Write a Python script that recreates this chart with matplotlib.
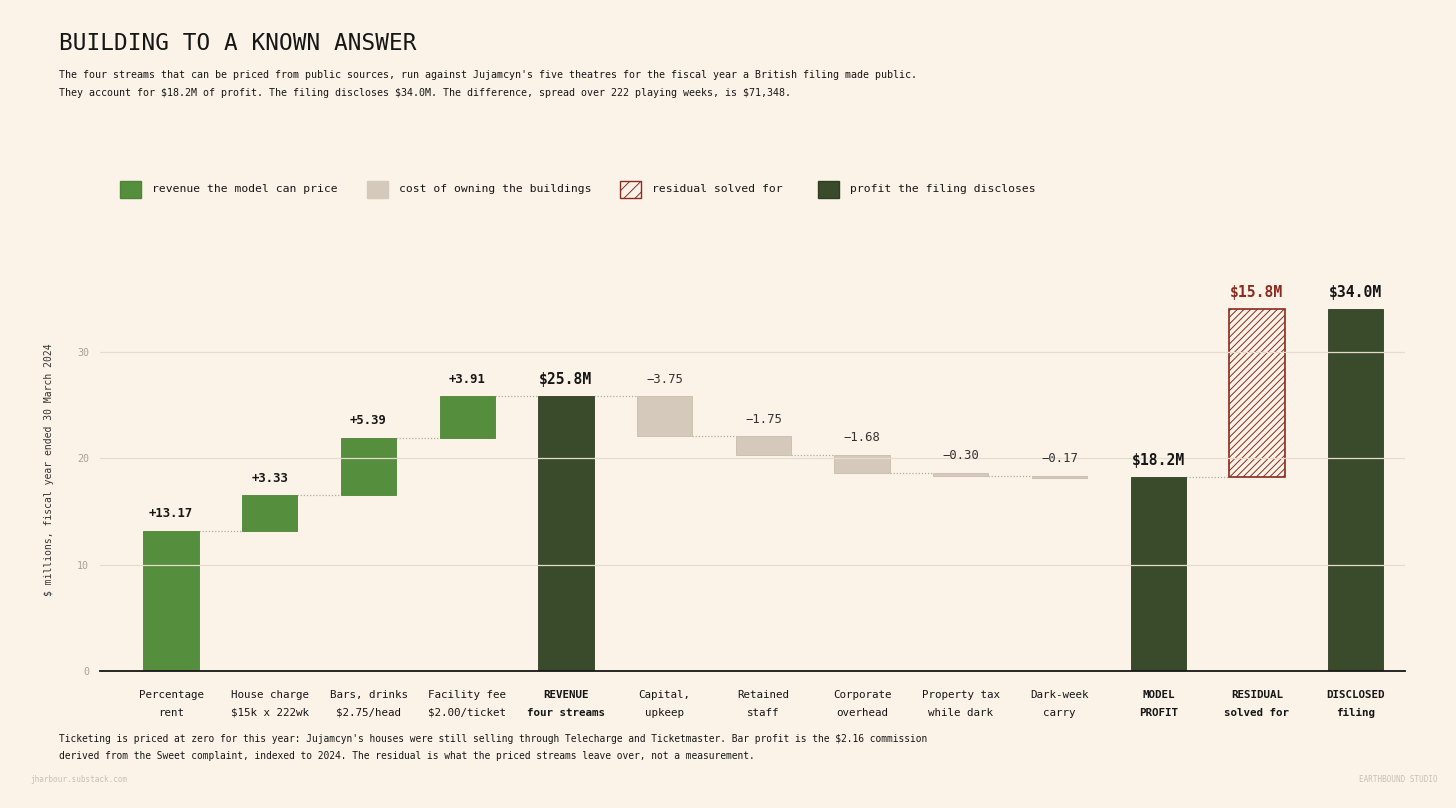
import numpy as np
import matplotlib.pyplot as plt
from matplotlib.patches import Rectangle

plt.rcParams['font.family'] = ['DejaVu Sans Mono']
plt.rcParams['hatch.linewidth'] = 0.7

BG = '#fbf3e8'
GREEN = '#558e3c'
DARK = '#3a4b2c'
BEIGE = '#d4c9ba'
RED = '#8b2a1e'
INK = '#161616'
GRID = '#e6dccd'

# data, $ millions
streams = ['Percentage\nrent', 'House charge\n$15k x 222wk', 'Bars, drinks\n$2.75/head',
           'Facility fee\n$2.00/ticket']
stream_vals = [13.17, 3.33, 5.39, 3.91]
costs = ['Capital,\nupkeep', 'Retained\nstaff', 'Corporate\noverhead',
         'Property tax\nwhile dark', 'Dark-week\ncarry']
cost_vals = [-3.75, -1.75, -1.68, -0.30, -0.17]
revenue_total = 25.8
model_profit = 18.2
residual = 15.8
disclosed = 34.0

labels = streams + ['REVENUE\nfour streams'] + costs + ['MODEL\nPROFIT', 'RESIDUAL\nsolved for',
                                                       'DISCLOSED\nfiling']
bold_idx = [4, 10, 11, 12]

fig = plt.figure(figsize=(14.56, 8.08), dpi=100, facecolor=BG)
ax = fig.add_axes([0.0687, 0.1696, 0.8963, 0.474])
ax.set_facecolor(BG)

w = 0.56
conn = dict(color='#b5ab9d', lw=0.9, ls=(0, (1, 1.5)), zorder=1)
small = dict(ha='center', va='bottom', fontsize=8.8, zorder=5)
big = dict(ha='center', va='bottom', fontsize=10.6, fontweight='bold', zorder=5)

# revenue streams
level = 0.0
x = 0
for v in stream_vals:
    ax.bar(x, v, w, bottom=level, color=GREEN, edgecolor='#4d8435', lw=0.6, zorder=2)
    ax.text(x, level + v + 1.0, f'+{v:.2f}', color=INK, fontweight='semibold', **small)
    level += v
    ax.plot([x + w / 2, x + 1 - w / 2], [level, level], **conn)
    x += 1

# revenue total
ax.bar(x, revenue_total, w, color=DARK, edgecolor='#2f3d24', lw=0.6, zorder=2)
ax.text(x, revenue_total + 0.9, f'${revenue_total:.1f}M', color=INK, **big)
ax.plot([x + w / 2, x + 1 - w / 2], [revenue_total, revenue_total], **conn)
x += 1

# costs
level = revenue_total
for i, v in enumerate(cost_vals):
    ax.bar(x, v, w, bottom=level, color=BEIGE, edgecolor='#c9bdac', lw=0.6, zorder=2)
    ax.text(x, level + 1.0, f'\u2212{abs(v):.2f}', color='#333333', **small)
    level += v
    if i < len(cost_vals) - 1:
        ax.plot([x + w / 2, x + 1 - w / 2], [level, level], **conn)
    x += 1

# model profit
ax.bar(x, model_profit, w, color=DARK, edgecolor='#2f3d24', lw=0.6, zorder=2)
ax.text(x, model_profit + 0.9, f'${model_profit:.1f}M', color=INK, **big)
ax.plot([x + w / 2, x + 1 - w / 2], [model_profit, model_profit], **conn)
x += 1

# residual
ax.bar(x, residual, w, bottom=model_profit, facecolor=BG, edgecolor=RED, hatch='/////',
       lw=1.2, zorder=2)
ax.text(x, model_profit + residual + 0.9, f'${residual:.1f}M', color=RED, **big)
x += 1

# disclosed
ax.bar(x, disclosed, w, color=DARK, edgecolor='#2f3d24', lw=0.6, zorder=2)
ax.text(x, disclosed + 0.9, f'${disclosed:.1f}M', color=INK, **big)

# gridlines drawn over bars, like the reference
for g in [10, 20, 30]:
    ax.axhline(g, color=GRID, lw=0.9, zorder=3)

ax.set_xlim(-0.72, 12.5)
ax.set_ylim(0, 36)
ax.set_yticks([0, 10, 20, 30])
ax.set_yticklabels(['0', '10', '20', '30'], fontsize=7.2, color='#a8a196')
ax.tick_params(axis='y', length=0, pad=8)
ax.set_xticks(range(len(labels)))
ax.set_xticklabels(labels, fontsize=7.8, color=INK, linespacing=1.9)
for i, t in enumerate(ax.get_xticklabels()):
    if i in bold_idx:
        t.set_fontweight('bold')
ax.tick_params(axis='x', length=0, pad=14)
for s in ['top', 'right', 'left']:
    ax.spines[s].set_visible(False)
ax.spines['bottom'].set_color(INK)
ax.spines['bottom'].set_linewidth(1.3)
ax.spines['bottom'].set_zorder(4)
ax.set_ylabel('$ millions, fiscal year ended 30 March 2024', fontsize=7.0, color='#333333')
ax.yaxis.set_label_coords(-0.035, 0.526)

# title and subtitle
fig.text(59 / 1456, 1 - 44 / 808, 'BUILDING TO A KNOWN ANSWER', fontsize=16.4, color=INK,
         va='center', ha='left', fontweight='medium')
fig.text(59 / 1456, 1 - 75 / 808,
         "The four streams that can be priced from public sources, run against Jujamcyn's five "
         "theatres for the fiscal year a British filing made public.",
         fontsize=7.2, color=INK, va='center')
fig.text(59 / 1456, 1 - 93 / 808,
         "They account for $18.2M of profit. The filing discloses $34.0M. The difference, spread "
         "over 222 playing weeks, is $71,348.",
         fontsize=7.2, color=INK, va='center')

# legend
legend_items = [
    (120, GREEN, '#4d8435', None, 'revenue the model can price'),
    (367, BEIGE, BEIGE, None, 'cost of owning the buildings'),
    (620, BG, RED, '///', 'residual solved for'),
    (818, DARK, '#2f3d24', None, 'profit the filing discloses'),
]
ly = 1 - 189 / 808
for px, fc, ec, h, txt in legend_items:
    r = Rectangle((px / 1456, ly - 8.5 / 808), 21 / 1456, 17 / 808, transform=fig.transFigure,
                  facecolor=fc, edgecolor=ec, hatch=h, lw=1.0)
    fig.patches.append(r)
    fig.text((px + 32) / 1456, ly, txt, fontsize=8.2, color=INK, va='center')

# footnote
fig.text(59 / 1456, 1 - 739 / 808,
         "Ticketing is priced at zero for this year: Jujamcyn's houses were still selling through "
         "Telecharge and Ticketmaster. Bar profit is the $2.16 commission",
         fontsize=6.9, color=INK, va='center')
fig.text(59 / 1456, 1 - 756 / 808,
         "derived from the Sweet complaint, indexed to 2024. The residual is what the priced "
         "streams leave over, not a measurement.",
         fontsize=6.9, color=INK, va='center')
fig.text(30 / 1456, 1 - 779 / 808, 'jharbour.substack.com', fontsize=5.5, color='#c8c0b4',
         va='center')
fig.text(1438 / 1456, 1 - 779 / 808, 'EARTHBOUND STUDIO', fontsize=5.5, color='#c8c0b4',
         va='center', ha='right')

fig.savefig('out.png', dpi=100, facecolor=BG)
